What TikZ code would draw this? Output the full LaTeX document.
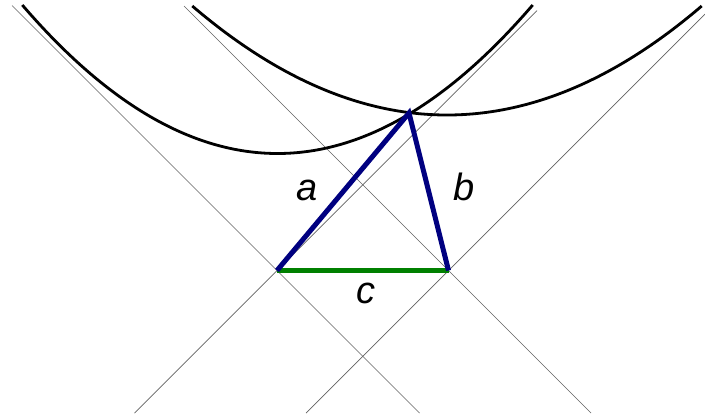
\documentclass[tikz,border=0pt]{standalone}
\usepackage{fontspec}
\setmainfont{Liberation Sans}
\definecolor{navyb}{RGB}{0,0,128}
\definecolor{greenc}{RGB}{0,128,0}
\begin{document}
\begin{tikzpicture}[x=1pt,y=-1pt,
  light/.style={draw=black!62, line width=0.7pt},
  world/.style={draw=black, line width=2.8pt},
  side/.style={draw=navyb, line width=5pt, line join=miter},
  basec/.style={draw=greenc, line width=5.5pt},
  lab/.style={font=\fontsize{38}{40}\selectfont\itshape, inner sep=0pt, anchor=base}]
\useasboundingbox (0,0) rectangle (705,416);
\coordinate (A) at (277,270.5);
\coordinate (B) at (448.5,270.5);
\coordinate (C) at (409,113);
\coordinate (A1) at (12,5.5);
\coordinate (A2) at (537,10.5);
\coordinate (A3) at (134.5,413);
\coordinate (A4) at (419.5,413);
\coordinate (B1) at (184,6);
\coordinate (B2) at (705,14);
\coordinate (B3) at (306,413);
\coordinate (B4) at (591,413);
\draw[light] (A1) -- (A4);
\draw[light] (A2) -- (A3);
\draw[light] (B1) -- (B4);
\draw[light] (B2) -- (B3);
\draw[world] plot[domain=22.3:532.7, samples=150] (\x, {153.5-22.8*((\x-277.5)/100)^2});
\draw[world] plot[domain=192.3:701.7, samples=150] (\x, {115-16.8*((\x-447)/100)^2});
\draw[basec] (A) -- (B);
\draw[side] (A) -- (C) -- (B);
\node[lab] (la) at (307,200) {a};
\node[lab] (lb) at (464,200) {b};
\node[lab] (lc) at (366,303) {c};
\end{tikzpicture}
\end{document}
